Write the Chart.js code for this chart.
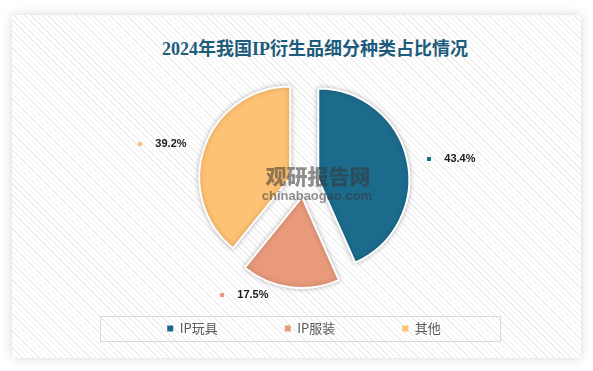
<!DOCTYPE html>
<html lang="zh">
<head>
  <meta charset="UTF-8" />
  <title>2024年我国IP衍生品细分种类占比情况</title>
  <script src="https://cdn.jsdelivr.net/npm/chart.js"></script>
  <style>
    html, body { margin:0; padding:0; background:#fff; }
    #wrap { position:relative; width:593px; height:371px; overflow:hidden; }
    .card { position:absolute; left:12px; top:15px; width:569px; height:343px;
      background:repeating-linear-gradient(45deg, #fff 0 3px, #eeeeee 3px 4px);
      box-shadow:0 0 10px rgba(0,0,0,0.16); }
    h1 { position:absolute; left:115px; width:400px; top:38px; margin:0; text-align:center;
      font:bold 18px 'Liberation Serif','Noto Sans CJK SC',serif; line-height:22px; color:#1d5c7a; }
    canvas { position:absolute; left:0; top:0; }
  </style>
</head>
<body>
  <div id="wrap">
    <div class="card"></div>
    <h1>2024年我国IP衍生品细分种类占比情况</h1>
    <canvas id="chart" width="593" height="371"></canvas>
  </div>

  <script>
    const categories = ['IP玩具', 'IP服装', '其他'];
    const shares = [43.4, 17.5, 39.2];
    const colors = ['#1c6b8d', '#e89a7b', '#fec274'];

    // label placement (distance from slice tip, turn in degrees off the mid angle)
    const labelDist = [143, 110, 124];
    const labelTurn = [3.9, 19, -3.7];
    const explodeBy = 14.6;

    // pull every slice out along its middle angle
    const explode = {
      id: 'explode',
      afterDatasetsUpdate(chart) {
        chart.getDatasetMeta(0).data.forEach(arc => {
          const mid = (arc.startAngle + arc.endAngle) / 2;
          arc.x += Math.cos(mid) * explodeBy;
          arc.y += Math.sin(mid) * explodeBy;
        });
      }
    };

    const sliceShadow = {
      id: 'sliceShadow',
      beforeDatasetsDraw(chart) {
        const ctx = chart.ctx;
        ctx.save();
        ctx.shadowColor = 'rgba(0,0,0,0.25)';
        ctx.shadowBlur = 5;
      },
      afterDatasetsDraw(chart) {
        chart.ctx.restore();
      }
    };

    const watermark = {
      id: 'watermark',
      afterDatasetsDraw(chart) {
        const ctx = chart.ctx;
        ctx.save();
        ctx.fillStyle = 'rgba(55,55,55,0.55)';
        ctx.textAlign = 'center';
        ctx.textBaseline = 'middle';
        ctx.font = "900 21px 'Noto Sans CJK SC'";
        ctx.fillText('观研报告网', 318, 176);
        ctx.font = "bold 13px 'Liberation Sans'";
        ctx.fillText('chinabaogao.com', 317, 196);
        ctx.restore();
      }
    };

    const valueLabels = {
      id: 'valueLabels',
      afterDatasetsDraw(chart) {
        const ctx = chart.ctx;
        ctx.save();
        ctx.font = "bold 11px 'Liberation Sans'";
        ctx.textAlign = 'center';
        ctx.textBaseline = 'middle';
        chart.getDatasetMeta(0).data.forEach((arc, i) => {
          const a = (arc.startAngle + arc.endAngle) / 2 + labelTurn[i] * Math.PI / 180;
          const x = arc.x + Math.cos(a) * labelDist[i];
          const y = arc.y + Math.sin(a) * labelDist[i];
          const txt = shares[i].toFixed(1) + '%';
          const w = ctx.measureText(txt).width;
          ctx.fillStyle = '#1a1a1a';
          ctx.fillText(txt, x, y);
          ctx.fillStyle = colors[i];
          ctx.fillRect(Math.round(x - w / 2 - 17), Math.round(y - 2), 4, 4);
        });
        ctx.restore();
      }
    };

    // thin frame round the legend row
    const legendFrame = {
      id: 'legendFrame',
      afterDraw(chart) {
        const hb = chart.legend.legendHitBoxes[0];
        const cy = hb.top + hb.height / 2;
        const ctx = chart.ctx;
        ctx.save();
        ctx.strokeStyle = '#d9d9d9';
        ctx.lineWidth = 1;
        ctx.strokeRect(100.5, Math.round(cy - 12.5) + 0.5, 400, 25);
        ctx.restore();
      }
    };

    new Chart(document.getElementById('chart'), {
      type: 'pie',
      data: {
        labels: categories,
        datasets: [{
          data: shares,
          backgroundColor: colors,
          borderColor: '#ffffff',
          borderWidth: 2,
          radius: 91,
          clip: false
        }]
      },
      options: {
        responsive: false,
        animation: false,
        layout: { padding: { left: 15, right: 0, top: 110, bottom: 26 } },
        plugins: {
          legend: {
            position: 'bottom',
            labels: {
              boxWidth: 6,
              boxHeight: 6,
              padding: 67,
              color: '#595959',
              font: { family: "'Noto Sans CJK SC'", size: 13 },
              generateLabels: chart =>
                Chart.overrides.pie.plugins.legend.labels.generateLabels(chart)
                  .map(item => ({ ...item, lineWidth: 0 }))
            }
          },
          title: { display: false },
          tooltip: { enabled: false }
        }
      },
      plugins: [explode, sliceShadow, watermark, valueLabels, legendFrame]
    });
  </script>
</body>
</html>
